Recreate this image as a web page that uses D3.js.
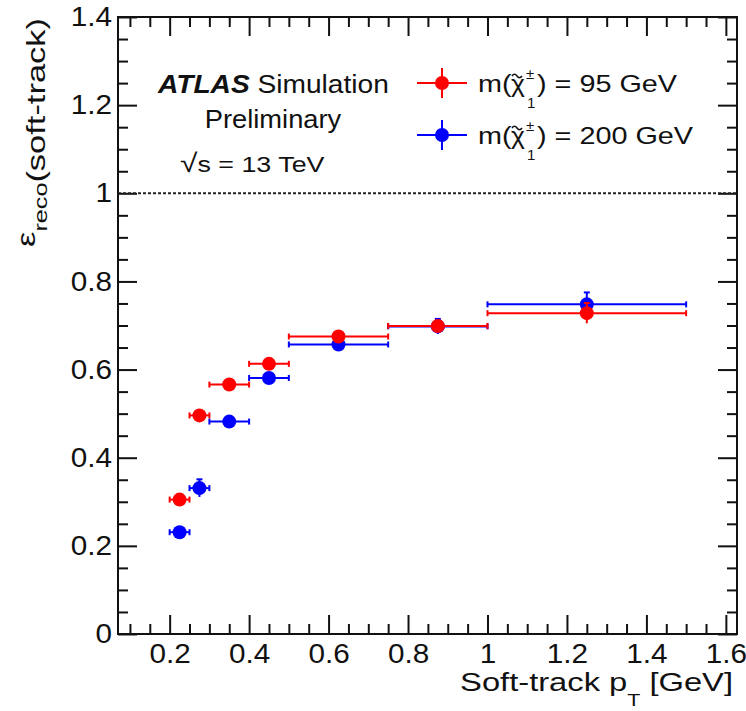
<!DOCTYPE html>
<html>
<head>
<meta charset="utf-8">
<script src="https://cdn.jsdelivr.net/npm/d3@7"></script>
<style>
  body { margin: 0; background: #fff; }
  svg { display: block; }
  text { font-family: "Liberation Sans", Arial, sans-serif; fill: #111; }
</style>
</head>
<body>
<div id="chart"></div>
<script>
// bins in soft-track pT [GeV]
let binLow = [0.2, 0.25, 0.3, 0.4, 0.5, 0.75, 1.0];
let binHigh = [0.25, 0.3, 0.4, 0.5, 0.75, 1.0, 1.5];

// efficiency values
let eff95 = [0.305, 0.496, 0.566, 0.613, 0.675, 0.699, 0.728];
let err95 = [0.008, 0.01, 0.008, 0.008, 0.008, 0.013, 0.023];
let eff200 = [0.231, 0.331, 0.482, 0.581, 0.657, 0.698, 0.748];
let err200 = [0.01, 0.02, 0.01, 0.01, 0.008, 0.017, 0.027];

let xTicks = [0.2, 0.4, 0.6, 0.8, 1, 1.2, 1.4, 1.6];
let yTicks = [0, 0.2, 0.4, 0.6, 0.8, 1, 1.2, 1.4];

let width = 746, height = 711;
let fLeft = 118, fRight = 737, fTop = 17, fBottom = 634;

let svg = d3.select('#chart').append('svg')
  .attr('width', width)
  .attr('height', height);

let x = d3.scaleLinear().domain([0.07, 1.628]).range([fLeft, fRight]);
let y = d3.scaleLinear().domain([0, 1.4]).range([fBottom, fTop]);

let xMinor = d3.range(0.1, 1.63, 0.05).map(d => +d.toFixed(2)).filter(d => xTicks.indexOf(d) < 0);
let yMinor = d3.range(0.05, 1.4, 0.05).map(d => +d.toFixed(2)).filter(d => yTicks.indexOf(d) < 0);

// the reference text is a bit wider than Liberation Sans, so stretch it sideways
function fit(t, w) {
  let bw = t.node().getBBox().width;
  let ax = +t.attr('x') || 0, ay = +t.attr('y') || 0;
  t.attr('transform', 'translate(' + ax + ',' + ay + ') scale(' + (w / bw) + ',1) translate(' + (-ax) + ',' + (-ay) + ')');
}
function stretch(t, sx) {
  let ax = +t.attr('x') || 0, ay = +t.attr('y') || 0;
  t.attr('transform', 'translate(' + ax + ',' + ay + ') scale(' + sx + ',1) translate(' + (-ax) + ',' + (-ay) + ')');
}

function styleAxis(g) {
  g.select('.domain').remove();
  g.selectAll('line').attr('stroke', '#111').attr('stroke-width', 2);
  g.selectAll('text').style('font-size', '27px').attr('fill', '#111')
    .each(function() { stretch(d3.select(this), 1.1); });
}

// major ticks with labels
svg.append('g')
  .attr('transform', 'translate(0,' + fBottom + ')')
  .call(d3.axisBottom(x).tickValues(xTicks).tickSize(-19).tickPadding(10).tickFormat(d3.format('')))
  .call(styleAxis);
svg.append('g')
  .attr('transform', 'translate(' + fLeft + ',0)')
  .call(d3.axisLeft(y).tickValues(yTicks).tickSize(-19).tickPadding(6).tickFormat(d3.format('')))
  .call(styleAxis);

// ticks on top and right, and minor ticks
svg.append('g').attr('transform', 'translate(0,' + fTop + ')')
  .call(d3.axisTop(x).tickValues(xTicks).tickSize(-19).tickFormat(''))
  .call(styleAxis);
svg.append('g').attr('transform', 'translate(' + fRight + ',0)')
  .call(d3.axisRight(y).tickValues(yTicks).tickSize(-19).tickFormat(''))
  .call(styleAxis);
svg.append('g').attr('transform', 'translate(0,' + fBottom + ')')
  .call(d3.axisBottom(x).tickValues(xMinor).tickSize(-10).tickFormat(''))
  .call(styleAxis);
svg.append('g').attr('transform', 'translate(0,' + fTop + ')')
  .call(d3.axisTop(x).tickValues(xMinor).tickSize(-10).tickFormat(''))
  .call(styleAxis);
svg.append('g').attr('transform', 'translate(' + fLeft + ',0)')
  .call(d3.axisLeft(y).tickValues(yMinor).tickSize(-10).tickFormat(''))
  .call(styleAxis);
svg.append('g').attr('transform', 'translate(' + fRight + ',0)')
  .call(d3.axisRight(y).tickValues(yMinor).tickSize(-10).tickFormat(''))
  .call(styleAxis);

// frame
svg.append('rect')
  .attr('x', fLeft).attr('y', fTop)
  .attr('width', fRight - fLeft).attr('height', fBottom - fTop)
  .attr('fill', 'none').attr('stroke', '#111').attr('stroke-width', 2);

// dotted line at 1
svg.append('line')
  .attr('x1', fLeft).attr('x2', fRight)
  .attr('y1', y(1)).attr('y2', y(1))
  .attr('stroke', '#222').attr('stroke-width', 2)
  .attr('stroke-dasharray', '3,2');

function drawSeries(vals, errs, color) {
  let rows = vals.map((v, i) => ({lo: binLow[i], hi: binHigh[i], v: v, e: errs[i]}));
  let g = svg.append('g');
  // horizontal bars
  g.selectAll('.hbar').data(rows).enter().append('line')
    .attr('x1', d => x(d.lo)).attr('x2', d => x(d.hi))
    .attr('y1', d => y(d.v)).attr('y2', d => y(d.v))
    .attr('stroke', color).attr('stroke-width', 2);
  // end caps
  g.selectAll('.capl').data(rows).enter().append('line')
    .attr('x1', d => x(d.lo)).attr('x2', d => x(d.lo))
    .attr('y1', d => y(d.v) - 3).attr('y2', d => y(d.v) + 3)
    .attr('stroke', color).attr('stroke-width', 2);
  g.selectAll('.capr').data(rows).enter().append('line')
    .attr('x1', d => x(d.hi)).attr('x2', d => x(d.hi))
    .attr('y1', d => y(d.v) - 3).attr('y2', d => y(d.v) + 3)
    .attr('stroke', color).attr('stroke-width', 2);
  // vertical errors
  g.selectAll('.vbar').data(rows).enter().append('line')
    .attr('x1', d => x((d.lo + d.hi) / 2)).attr('x2', d => x((d.lo + d.hi) / 2))
    .attr('y1', d => y(d.v + d.e)).attr('y2', d => y(d.v - d.e))
    .attr('stroke', color).attr('stroke-width', 2);
  g.selectAll('.vcap').data(rows.filter(d => d.e > 0.015)).enter().append('line')
    .attr('x1', d => x((d.lo + d.hi) / 2) - 3).attr('x2', d => x((d.lo + d.hi) / 2) + 3)
    .attr('y1', d => y(d.v + d.e)).attr('y2', d => y(d.v + d.e))
    .attr('stroke', color).attr('stroke-width', 2);
  g.selectAll('circle').data(rows).enter().append('circle')
    .attr('cx', d => x((d.lo + d.hi) / 2))
    .attr('cy', d => y(d.v))
    .attr('r', 7)
    .attr('fill', color);
}

drawSeries(eff200, err200, '#0000ff');
drawSeries(eff95, err95, '#ff0000');

// ATLAS label
let lab = svg.append('text').attr('x', 158).attr('y', 93).style('font-size', '25px');
lab.append('tspan').text('ATLAS').style('font-weight', 'bold').style('font-style', 'italic');
lab.append('tspan').text(' Simulation');
fit(lab, 232);
let pre = svg.append('text').attr('x', 273).attr('y', 128).attr('text-anchor', 'middle')
  .style('font-size', '25px').text('Preliminary');
fit(pre, 137);
let rs = svg.append('text').attr('x', 180).attr('y', 172).style('font-size', '22px');
rs.append('tspan').text('√').style('font-size', '26px');
rs.append('tspan').text('s = 13 TeV');
fit(rs, 145);

// legend
let legend = [{label: '95 GeV', color: '#ff0000', y: 83}, {label: '200 GeV', color: '#0000ff', y: 135}];
legend.forEach(function(d) {
  let g = svg.append('g');
  g.append('line').attr('x1', 417).attr('x2', 467).attr('y1', d.y).attr('y2', d.y)
    .attr('stroke', d.color).attr('stroke-width', 2);
  g.append('line').attr('x1', 442).attr('x2', 442).attr('y1', d.y - 15).attr('y2', d.y + 15)
    .attr('stroke', d.color).attr('stroke-width', 2);
  g.append('circle').attr('cx', 442).attr('cy', d.y).attr('r', 7).attr('fill', d.color);
  let by = d.y + 9;
  stretch(g.append('text').attr('x', 478).attr('y', by).style('font-size', '24px').text('m('), 1.2);
  stretch(g.append('text').attr('x', 511).attr('y', by).style('font-size', '24px').text('χ'), 1.1);
  // tilde over chi
  g.append('path')
    .attr('d', 'M' + 512 + ',' + (by - 16) + ' q2.5,-3.5 5,0 t5,0')
    .attr('fill', 'none').attr('stroke', '#111').attr('stroke-width', 1.5);
  g.append('text').attr('x', 526).attr('y', by - 13).style('font-size', '15px').text('±');
  g.append('text').attr('x', 527).attr('y', by + 16).style('font-size', '15px').text('1');
  stretch(g.append('text').attr('x', 537).attr('y', by).style('font-size', '24px').text(') = ' + d.label), 1.2);
});

// axis titles
let xt = svg.append('text').attr('x', 733).attr('y', 691).attr('text-anchor', 'end')
  .style('font-size', '26px');
xt.append('tspan').text('Soft-track p');
xt.append('tspan').text('T').style('font-size', '17px').attr('dy', 15);
xt.append('tspan').text(' [GeV]').attr('dy', -15);
fit(xt, 273);

let yg = svg.append('g').attr('transform', 'translate(45,18) rotate(-90)');
let yt = yg.append('text').attr('x', 0).attr('y', 0)
  .attr('text-anchor', 'end')
  .style('font-size', '26px');
yt.append('tspan').text('ε').attr('dy', -10);
yt.append('tspan').text('reco').style('font-size', '19px').attr('dy', 12);
yt.append('tspan').text('(soft-track)').attr('dy', -2);
fit(yt, 229);
</script>
</body>
</html>
